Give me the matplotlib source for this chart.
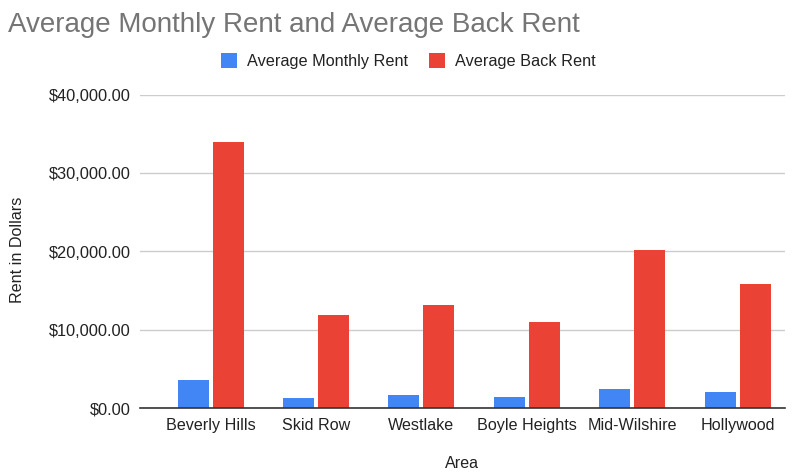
import matplotlib
matplotlib.use("Agg")
import matplotlib.pyplot as plt
import numpy as np
from matplotlib.ticker import FuncFormatter

plt.rcParams['font.family'] = ['Liberation Sans', 'DejaVu Sans']

categories = ["Beverly Hills", "Skid Row", "Westlake", "Boyle Heights", "Mid-Wilshire", "Hollywood"]
monthly_rent = [3550, 1300, 1650, 1350, 2380, 2000]
back_rent = [33950, 11830, 13200, 10930, 20230, 15850]
yticks = [0, 10000, 20000, 30000, 40000]

BLUE = "#4285F4"
RED = "#EA4335"

fig = plt.figure(figsize=(7.98, 4.73), dpi=100)
ax = fig.add_axes([140/798, 1-408/473, (785-140)/798, (408-95)/473])

x = np.arange(len(categories))
w = 0.294
off = 0.166
ax.bar(x - off, monthly_rent, w, color=BLUE, label="Average Monthly Rent", zorder=3)
ax.bar(x + off, back_rent, w, color=RED, label="Average Back Rent", zorder=3)

ax.set_xlim(-0.67, 5.45)
ax.set_ylim(0, 40000)
ax.set_yticks(yticks)
ax.yaxis.set_major_formatter(FuncFormatter(lambda v, p: "${:,.2f}".format(v)))
ax.set_xticks(x)
ax.set_xticklabels(categories)
ax.grid(axis='y', color='#cccccc', linewidth=1, zorder=0)
for s in ['top', 'right', 'left']:
    ax.spines[s].set_visible(False)
ax.spines['bottom'].set_color('#333333')
ax.spines['bottom'].set_linewidth(1.2)
ax.spines['bottom'].set_zorder(4)
ax.tick_params(axis='both', length=0, colors='#222222')
ax.tick_params(axis='y', pad=6.5, labelsize=11.8)
ax.tick_params(axis='x', pad=7, labelsize=11.6)

fig.text(462/798, 1-463/473, "Area", ha='center', va='center', fontsize=11.6, color='#222222')
fig.text(18/798, 1-250/473, "Rent in Dollars", rotation=90, ha='center', va='center',
         fontsize=11.6, color='#222222')

fig.text(8/798, 1-32/473, "Average Monthly Rent and Average Back Rent", ha='left', va='baseline',
         fontsize=20, color='#757575')

leg = fig.legend(loc='center', bbox_to_anchor=(408/798, 1-61/473), ncol=2, frameon=False,
                 fontsize=11.7, handlelength=1.0, handleheight=1.1, columnspacing=1.3,
                 handletextpad=0.6)
for t in leg.get_texts():
    t.set_color('#222222')

fig.savefig("out.png", dpi=100)
